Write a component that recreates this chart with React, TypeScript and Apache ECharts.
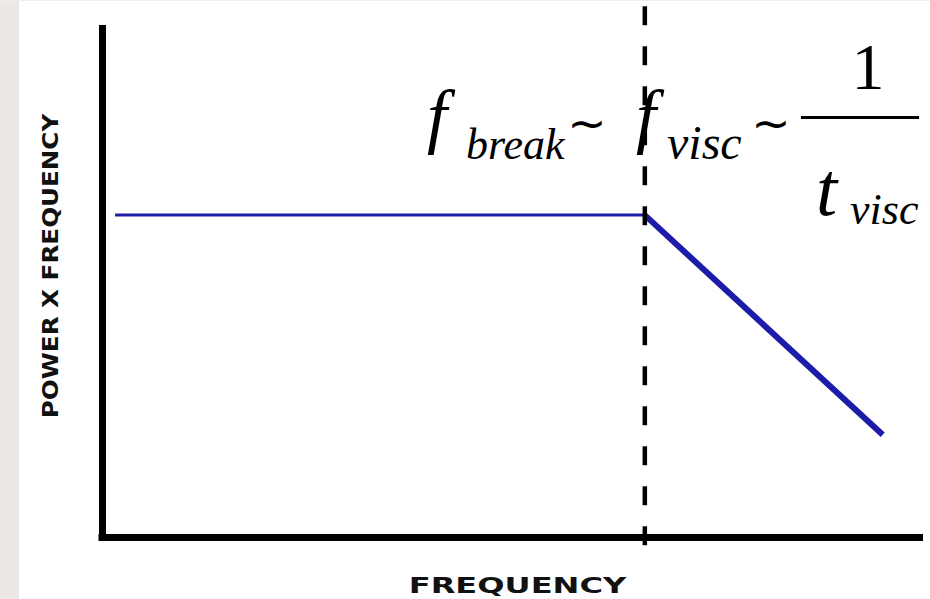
import React, { useEffect, useRef } from "react";
import * as echarts from "echarts";

// Schematic power-spectrum values (axis units 0..100)
const flatFreq = [1.6, 66.4];
const flatPower = [63.3, 63.3];
const slopeFreq = [66.4, 95.5];
const slopePower = [63.3, 20.1];
const breakFreq = [66.4, 66.4];
const breakPower = [104.4, -1.8];

const xLabel = "FREQUENCY";
const yLabel = "POWER X FREQUENCY";

const pairs = (xs: number[], ys: number[]) => xs.map((x, i) => [x, ys[i]]);

const SERIF = "'Liberation Serif', 'Times New Roman', serif";
const SANS = "'DejaVu Sans', 'Liberation Sans', Arial, sans-serif";

export default function App() {
  const ref = useRef<HTMLDivElement>(null);
  useEffect(() => {
    document.body.style.margin = "0";
    const chart = echarts.init(ref.current!, null, { renderer: "svg" });
    const axisCommon = {
      type: "value",
      min: 0,
      max: 100,
      axisLine: { show: true, onZero: false, lineStyle: { color: "#000", width: 7, cap: "square" } },
      axisTick: { show: false },
      axisLabel: { show: false },
      splitLine: { show: false },
    };
    const mathText = (
      text: string,
      x: number,
      y: number,
      size: number,
      italic = true,
      align = "left",
      family = SERIF
    ) => ({
      type: "text",
      x,
      y,
      z: 100,
      style: {
        text,
        fontSize: size,
        fontFamily: family,
        fontStyle: italic ? "italic" : "normal",
        fill: "#000",
        align,
        verticalAlign: "middle",
      },
    });
    chart.setOption({
      animation: false,
      backgroundColor: "#fff",
      grid: { left: 102, right: 10.5, top: 28.5, bottom: 62 },
      xAxis: axisCommon,
      yAxis: axisCommon,
      series: [
        {
          type: "line",
          data: pairs(flatFreq, flatPower),
          symbol: "none",
          silent: true,
          lineStyle: { color: "#1c1ca8", width: 3 },
        },
        {
          type: "line",
          data: pairs(slopeFreq, slopePower),
          symbol: "none",
          silent: true,
          lineStyle: { color: "#1c1ca8", width: 6 },
        },
        {
          type: "line",
          data: pairs(breakFreq, breakPower),
          symbol: "none",
          silent: true,
          clip: false,
          lineStyle: { color: "#000", width: 4.5, type: [19, 21] },
        },
      ],
      graphic: [
        { type: "rect", x: 0, y: 0, z: 0, shape: { width: 19, height: 599 }, style: { fill: "#ece8e6" } },
        { type: "rect", x: 0, y: 0, z: 0, shape: { width: 930, height: 1 }, style: { fill: "#f0eeec" } },
        {
          type: "text",
          x: 517.5,
          y: 585.3,
          scaleX: 1.46,
          z: 100,
          style: {
            text: xLabel,
            fontSize: 22,
            fontWeight: "bold",
            fontFamily: SANS,
            fill: "#111",
            align: "center",
            verticalAlign: "middle",
          },
        },
        {
          type: "text",
          x: 51,
          y: 266,
          rotation: Math.PI / 2,
          scaleX: 1.2,
          z: 100,
          style: {
            text: yLabel,
            fontSize: 20.5,
            fontWeight: "bold",
            fontFamily: SANS,
            fill: "#111",
            align: "center",
            verticalAlign: "middle",
          },
        },
        mathText("f", 427, 115.7, 72),
        mathText("break", 466, 144.2, 44),
        mathText("~", 587, 122, 47, false, "center", "'DejaVu Sans', sans-serif"),
        mathText("f", 636, 115.7, 72),
        mathText("visc", 667, 142.8, 48),
        mathText("~", 771, 122, 47, false, "center", "'DejaVu Sans', sans-serif"),
        { type: "rect", x: 801, y: 116, z: 100, shape: { width: 118, height: 3 }, style: { fill: "#000" } },
        mathText("1", 868, 66.5, 66, false, "center"),
        mathText("t", 816, 189, 76),
        mathText("visc", 850, 209, 44),
      ],
    });
    return () => chart.dispose();
  }, []);
  return (
    <div
      ref={ref}
      style={{ position: "absolute", left: 0, top: 0, width: 930, height: 599, background: "#fff" }}
    />
  );
}
